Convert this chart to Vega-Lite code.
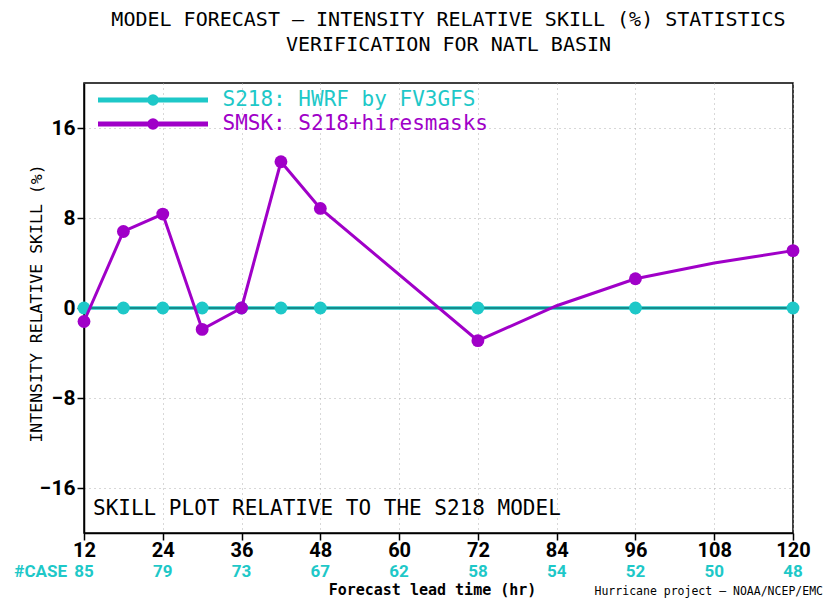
{
  "$schema": "https://vega.github.io/schema/vega-lite/v6.json",
  "width": 709,
  "height": 450,
  "autosize": {"type": "none"},
  "padding": {"left": 84, "top": 83, "right": 32, "bottom": 66},
  "background": "white",
  "title": {
    "text": ["MODEL FORECAST – INTENSITY RELATIVE SKILL (%) STATISTICS", "VERIFICATION FOR NATL BASIN"],
    "font": "DejaVu Sans Mono",
    "fontSize": 20,
    "fontWeight": "normal",
    "color": "black",
    "anchor": "middle",
    "frame": "group",
    "dx": 10,
    "offset": 28,
    "lineHeight": 25
  },
  "config": {
    "view": {"stroke": "black", "strokeWidth": 1.5},
    "axis": {
      "domainColor": "black",
      "domainWidth": 1.5,
      "tickColor": "black",
      "tickWidth": 1.5,
      "tickSize": 7,
      "labelColor": "black",
      "labelFont": "Roboto",
      "labelFontSize": 20,
      "labelFontWeight": "bold",
      "labelFlush": false,
      "gridColor": "#b0b0b0",
      "gridDash": [1, 4],
      "gridWidth": 1,
      "titleColor": "black"
    }
  },
  "datasets": {
    "series": [
      {"hour": 12, "series": "S218: HWRF by FV3GFS", "skill": 0, "marker": true},
      {"hour": 18, "series": "S218: HWRF by FV3GFS", "skill": 0, "marker": true},
      {"hour": 24, "series": "S218: HWRF by FV3GFS", "skill": 0, "marker": true},
      {"hour": 30, "series": "S218: HWRF by FV3GFS", "skill": 0, "marker": true},
      {"hour": 36, "series": "S218: HWRF by FV3GFS", "skill": 0, "marker": true},
      {"hour": 42, "series": "S218: HWRF by FV3GFS", "skill": 0, "marker": true},
      {"hour": 48, "series": "S218: HWRF by FV3GFS", "skill": 0, "marker": true},
      {"hour": 72, "series": "S218: HWRF by FV3GFS", "skill": 0, "marker": true},
      {"hour": 96, "series": "S218: HWRF by FV3GFS", "skill": 0, "marker": true},
      {"hour": 120, "series": "S218: HWRF by FV3GFS", "skill": 0, "marker": true},
      {"hour": 12, "series": "SMSK: S218+hiresmasks", "skill": -1.2, "marker": true},
      {"hour": 18, "series": "SMSK: S218+hiresmasks", "skill": 6.8, "marker": true},
      {"hour": 24, "series": "SMSK: S218+hiresmasks", "skill": 8.35, "marker": true},
      {"hour": 30, "series": "SMSK: S218+hiresmasks", "skill": -1.9, "marker": true},
      {"hour": 36, "series": "SMSK: S218+hiresmasks", "skill": 0, "marker": true},
      {"hour": 42, "series": "SMSK: S218+hiresmasks", "skill": 13.0, "marker": true},
      {"hour": 48, "series": "SMSK: S218+hiresmasks", "skill": 8.85, "marker": true},
      {"hour": 72, "series": "SMSK: S218+hiresmasks", "skill": -2.9, "marker": true},
      {"hour": 84, "series": "SMSK: S218+hiresmasks", "skill": 0.2, "marker": false},
      {"hour": 96, "series": "SMSK: S218+hiresmasks", "skill": 2.6, "marker": true},
      {"hour": 108, "series": "SMSK: S218+hiresmasks", "skill": 4.0, "marker": false},
      {"hour": 120, "series": "SMSK: S218+hiresmasks", "skill": 5.1, "marker": true}
    ],
    "cases": [
      {"hour": 12, "cases": 85},
      {"hour": 24, "cases": 79},
      {"hour": 36, "cases": 73},
      {"hour": 48, "cases": 67},
      {"hour": 60, "cases": 62},
      {"hour": 72, "cases": 58},
      {"hour": 84, "cases": 54},
      {"hour": 96, "cases": 52},
      {"hour": 108, "cases": 50},
      {"hour": 120, "cases": 48}
    ]
  },
  "layer": [
    {
      "data": {"name": "series"},
      "transform": [{"filter": "datum.series === 'S218: HWRF by FV3GFS'"}],
      "mark": {"type": "line", "strokeWidth": 3.5},
      "encoding": {
        "x": {
          "field": "hour", "type": "quantitative", "title": "Forecast lead time (hr)",
          "scale": {"domain": [12, 120], "nice": false, "zero": false},
          "axis": {
            "values": [12, 24, 36, 48, 60, 72, 84, 96, 108, 120],
            "grid": true,
            "labelPadding": 0,
            "titleFont": "DejaVu Sans Mono",
            "titleFontSize": 15,
            "titleFontWeight": "bold",
            "titlePadding": 22,
            "titleX": 348
          }
        },
        "y": {
          "field": "skill", "type": "quantitative", "title": "INTENSITY RELATIVE SKILL (%)",
          "scale": {"domain": [-20, 20], "nice": false},
          "axis": {
            "values": [-16, -8, 0, 8, 16],
            "grid": true,
            "labelPadding": 2,
            "labelFontSize": 21,
            "titleFont": "DejaVu Sans Mono",
            "titleFontSize": 16.5,
            "titleFontWeight": "normal",
            "titleX": -48,
            "titleY": 220,
            "titleBaseline": "middle"
          }
        },
        "color": {
          "field": "series", "type": "nominal",
          "scale": {
            "domain": ["S218: HWRF by FV3GFS", "SMSK: S218+hiresmasks"],
            "range": ["#1ec8c8", "#a000c8"]
          },
          "legend": {
            "orient": "none",
            "legendX": 0,
            "legendY": 6.5,
            "title": null,
            "padding": 0,
            "symbolType": "M-10,0H10M0.6,0A0.6,0.6,0,1,1,-0.6,0A0.6,0.6,0,1,1,0.6,0Z",
            "symbolSize": 121,
            "symbolStrokeWidth": 5,
            "symbolOffset": 58.5,
            "labelOffset": 59,
            "labelLimit": 500,
            "labelFont": "DejaVu Sans Mono",
            "labelFontSize": 21,
            "rowPadding": -5,
            "encode": {
              "labels": {"update": {"fill": {"scale": "color", "field": "value"}}},
              "symbols": {"update": {
                "fill": {"scale": "color", "field": "value"},
                "stroke": {"scale": "color", "field": "value"},
                "opacity": {"value": 1}
              }}
            }
          }
        }
      }
    },
    {
      "data": {"values": [{"ref": 0}]},
      "mark": {"type": "rule", "color": "#0d3b3b", "strokeWidth": 1.2, "opacity": 0.85},
      "encoding": {
        "y": {"field": "ref", "type": "quantitative", "title": "INTENSITY RELATIVE SKILL (%)"}
      }
    },
    {
      "data": {"name": "series"},
      "transform": [{"filter": "datum.series === 'S218: HWRF by FV3GFS' && datum.marker"}],
      "mark": {"type": "point", "filled": true, "size": 165, "opacity": 1, "strokeWidth": 0},
      "encoding": {
        "x": {"field": "hour", "type": "quantitative", "title": "Forecast lead time (hr)"},
        "y": {"field": "skill", "type": "quantitative", "title": "INTENSITY RELATIVE SKILL (%)"},
        "color": {"field": "series", "type": "nominal"}
      }
    },
    {
      "data": {"name": "series"},
      "transform": [{"filter": "datum.series === 'SMSK: S218+hiresmasks'"}],
      "mark": {"type": "line", "strokeWidth": 3},
      "encoding": {
        "x": {"field": "hour", "type": "quantitative", "title": "Forecast lead time (hr)"},
        "y": {"field": "skill", "type": "quantitative", "title": "INTENSITY RELATIVE SKILL (%)"},
        "color": {"field": "series", "type": "nominal"}
      }
    },
    {
      "data": {"name": "series"},
      "transform": [{"filter": "datum.series === 'SMSK: S218+hiresmasks' && datum.marker"}],
      "mark": {"type": "point", "filled": true, "size": 165, "opacity": 1, "strokeWidth": 0},
      "encoding": {
        "x": {"field": "hour", "type": "quantitative", "title": "Forecast lead time (hr)"},
        "y": {"field": "skill", "type": "quantitative", "title": "INTENSITY RELATIVE SKILL (%)"},
        "color": {"field": "series", "type": "nominal"}
      }
    },
    {
      "data": {"name": "cases"},
      "mark": {"type": "text", "dy": 264, "color": "#1ec8c8", "font": "Roboto", "fontSize": 17, "fontWeight": "bold", "baseline": "middle", "align": "center"},
      "encoding": {
        "x": {"field": "hour", "type": "quantitative", "title": "Forecast lead time (hr)"},
        "text": {"field": "cases", "type": "quantitative"}
      }
    },
    {
      "data": {"values": [{"hour": 12, "label": "#CASE"}]},
      "mark": {"type": "text", "dy": 264, "dx": -17, "color": "#1ec8c8", "font": "Roboto", "fontSize": 17, "fontWeight": "bold", "baseline": "middle", "align": "right"},
      "encoding": {
        "x": {"field": "hour", "type": "quantitative", "title": "Forecast lead time (hr)"},
        "text": {"field": "label", "type": "nominal"}
      }
    },
    {
      "data": {"values": [{"hour": 12, "skill": -17.9, "note": "SKILL PLOT RELATIVE TO THE S218 MODEL"}]},
      "mark": {"type": "text", "dx": 9, "color": "black", "font": "DejaVu Sans Mono", "fontSize": 21, "baseline": "middle", "align": "left"},
      "encoding": {
        "x": {"field": "hour", "type": "quantitative", "title": "Forecast lead time (hr)"},
        "y": {"field": "skill", "type": "quantitative", "title": "INTENSITY RELATIVE SKILL (%)"},
        "text": {"field": "note", "type": "nominal"}
      }
    },
    {
      "data": {"values": [{"hour": 120, "credit": "Hurricane project – NOAA/NCEP/EMC"}]},
      "mark": {"type": "text", "dy": 284, "dx": 30, "color": "black", "font": "DejaVu Sans Mono", "fontSize": 11.5, "baseline": "middle", "align": "right"},
      "encoding": {
        "x": {"field": "hour", "type": "quantitative", "title": "Forecast lead time (hr)"},
        "text": {"field": "credit", "type": "nominal"}
      }
    }
  ]
}
